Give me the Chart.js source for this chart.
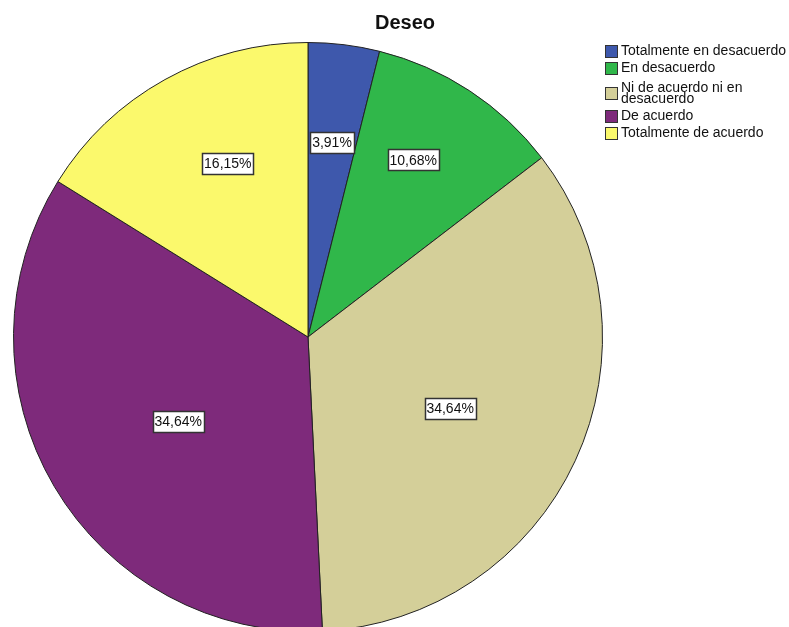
<!DOCTYPE html>
<html>
<head>
<meta charset="utf-8">
<script src="https://cdn.jsdelivr.net/npm/chart.js@4"></script>
<style>
  html, body { margin: 0; padding: 0; background: #fff; overflow: hidden; }
  #wrap { position: relative; width: 789px; height: 627px; overflow: hidden; }
  #box { position: absolute; left: 0; top: 0; width: 789px; height: 640px; }
  #title { position: absolute; left: 340px; top: 11px; width: 130px; text-align: center;
           font: bold 20px "Liberation Sans", Arial, sans-serif; color: #111; }
  #legend { position: absolute; left: 605px; top: 0; font: 14px "Liberation Sans", Arial, sans-serif; color: #111; }
  .item { position: absolute; left: 0; display: flex; align-items: flex-start; line-height: 13px; }
  .sw { width: 11px; height: 11px; border: 1px solid #333; margin-right: 3px; margin-top: 1px; flex: none; }
  .txt { width: 170px; }
</style>
</head>
<body>
<div id="wrap">
  <div id="box"><canvas id="myChart"></canvas></div>
  <div id="title">Deseo</div>
  <div id="legend"></div>
</div>
<script>
// Categories and percentages
var categories = ['Totalmente en desacuerdo', 'En desacuerdo', 'Ni de acuerdo ni en desacuerdo', 'De acuerdo', 'Totalmente de acuerdo'];
var percentages = [3.91, 10.68, 34.64, 34.64, 16.15];
var colors = ['#3e58ac', '#30b74a', '#d4cf99', '#7e2a7b', '#fbf96c'];

// label placement: fraction of the radius, and a nudge in degrees off the slice middle
var labelRadius = [0.665, 0.70, 0.54, 0.525, 0.65];
var labelNudge = [0, -2.6, 1.8, -2.5, 4.3];

// legend row offsets (px from top)
var legendTops = [44, 61, 82, 109, 126];

function fmt(v) {
    return v.toFixed(2).replace('.', ',') + '%';
}

// Build the legend
var legend = document.getElementById('legend');
categories.forEach(function(name, i) {
    var row = document.createElement('div');
    row.className = 'item';
    row.style.top = legendTops[i] + 'px';
    var sw = document.createElement('div');
    sw.className = 'sw';
    sw.style.background = colors[i];
    var t = document.createElement('div');
    t.className = 'txt';
    t.textContent = name;
    if (i === 2) {
        // wraps onto two tighter lines
        sw.style.marginTop = '5px';
        t.style.width = '140px';
        row.style.lineHeight = '11px';
    }
    row.appendChild(sw);
    row.appendChild(t);
    legend.appendChild(row);
});

// Boxed percentage labels on each slice
var boxLabels = {
    id: 'boxLabels',
    afterDatasetsDraw: function(chart) {
        var ctx = chart.ctx;
        var meta = chart.getDatasetMeta(0);
        ctx.save();
        ctx.font = '14px "Liberation Sans", Arial, sans-serif';
        ctx.textAlign = 'center';
        ctx.textBaseline = 'middle';
        meta.data.forEach(function(arc, i) {
            var p = arc.getProps(['x', 'y', 'startAngle', 'endAngle', 'outerRadius'], true);
            var a = (p.startAngle + p.endAngle) / 2 + labelNudge[i] * Math.PI / 180;
            var r = p.outerRadius * labelRadius[i];
            var x = p.x + Math.cos(a) * r;
            var y = p.y + Math.sin(a) * r;
            var text = fmt(percentages[i]);
            var w = Math.round(ctx.measureText(text).width + 4);
            var h = 21;
            var bx = Math.round(x - w / 2) + 0.5;
            var by = Math.round(y - h / 2) + 0.5;
            ctx.fillStyle = '#fff';
            ctx.fillRect(bx, by, w, h);
            ctx.strokeStyle = '#333';
            ctx.lineWidth = 1.5;
            ctx.strokeRect(bx, by, w, h);
            ctx.fillStyle = '#111';
            ctx.fillText(text, x, y + 1);
        });
        ctx.restore();
    }
};

var ctx = document.getElementById('myChart').getContext('2d');
var myChart = new Chart(ctx, {
    type: 'pie',
    data: {
        labels: categories,
        datasets: [{
            data: percentages,
            backgroundColor: colors,
            borderColor: '#222',
            borderWidth: 1
        }]
    },
    options: {
        responsive: true,
        maintainAspectRatio: false,
        animation: false,
        layout: {
            padding: { left: 13, right: 186, top: 42, bottom: 8 }
        },
        plugins: {
            legend: { display: false },
            tooltip: { enabled: false }
        }
    },
    plugins: [boxLabels]
});
</script>
</body>
</html>
